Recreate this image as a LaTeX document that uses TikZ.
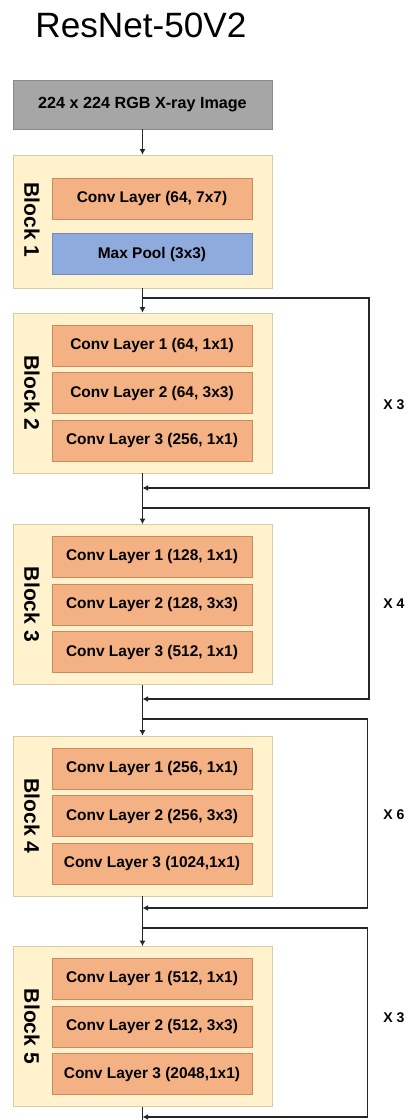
\documentclass[tikz,border=0pt]{standalone}
\usepackage{fontspec}
\setmainfont{Liberation Sans}
\usetikzlibrary{positioning,arrows.meta}
\definecolor{imgfill}{HTML}{A6A6A6}
\definecolor{imgedge}{HTML}{8A8A8A}
\definecolor{blkfill}{HTML}{FFF2CC}
\definecolor{blkedge}{HTML}{D8CBA6}
\definecolor{convfill}{HTML}{F4B183}
\definecolor{convedge}{HTML}{C98A60}
\definecolor{poolfill}{HTML}{8FAADC}
\definecolor{pooledge}{HTML}{6F8CC2}
\definecolor{linecol}{HTML}{262626}

\begin{document}
\begin{tikzpicture}[x=0.025cm,y=-0.025cm,
  block/.style={draw=blkedge,fill=blkfill,minimum width=6.475cm,minimum height=4cm,inner sep=0pt},
  layer/.style={draw=convedge,fill=convfill,minimum width=5cm,minimum height=1.025cm,inner sep=0pt,font=\bfseries\fontsize{11}{13}\selectfont},
  pool/.style={layer,draw=pooledge,fill=poolfill},
  inbox/.style={draw=imgedge,fill=imgfill,minimum width=6.475cm,minimum height=1.225cm,inner sep=0pt,font=\bfseries\fontsize{11.5}{13}\selectfont},
  blabel/.style={rotate=-90,font=\bfseries\fontsize{15}{18}\selectfont},
  rep/.style={font=\bfseries\fontsize{10}{12}\selectfont},
  line/.style={line width=1.4pt,draw=linecol},
  arr/.style={line,-{Latex[length=1.4mm,width=1.5mm]}}
]
\useasboundingbox (0,0) rectangle (408,1120);
\node[anchor=base,font=\fontsize{25}{30}\selectfont] (title) at (141,37) {ResNet-50V2};
\node[inbox] (img) at (142.5,104.5) {224 x 224 RGB X-ray Image};

\node[block,minimum height=3.325cm] (b1) at (142.5,221.5) {};
\node[layer] (c11) at (152,198.5) {Conv Layer (64, 7x7)};
\node[pool,below=0.35cm of c11] (p1) {Max Pool (3x3)};
\node[blabel] (t1) at (32,220) {Block 1};

\node[block] (b2) at (142.5,393) {};
\node[layer] (c22) at (152,393) {Conv Layer 2 (64, 3x3)};
\node[layer,above=0.15cm of c22] (c21) {Conv Layer 1 (64, 1x1)};
\node[layer,below=0.15cm of c22] (c23) {Conv Layer 3 (256, 1x1)};
\node[blabel] (t2) at (32,393) {Block 2};

\node[block] (b3) at (142.5,604.5) {};
\node[layer] (c32) at (152,604.5) {Conv Layer 2 (128, 3x3)};
\node[layer,above=0.15cm of c32] (c31) {Conv Layer 1 (128, 1x1)};
\node[layer,below=0.15cm of c32] (c33) {Conv Layer 3 (512, 1x1)};
\node[blabel] (t3) at (32,604.5) {Block 3};

\node[block] (b4) at (142.5,816) {};
\node[layer] (c42) at (152,816) {Conv Layer 2 (256, 3x3)};
\node[layer,above=0.15cm of c42] (c41) {Conv Layer 1 (256, 1x1)};
\node[layer,below=0.15cm of c42] (c43) {Conv Layer 3 (1024,1x1)};
\node[blabel] (t4) at (32,816) {Block 4};

\node[block] (b5) at (142.5,1026.5) {};
\node[layer] (c52) at (152,1026.5) {Conv Layer 2 (512, 3x3)};
\node[layer,above=0.15cm of c52] (c51) {Conv Layer 1 (512, 1x1)};
\node[layer,below=0.15cm of c52] (c53) {Conv Layer 3 (2048,1x1)};
\node[blabel] (t5) at (32,1026.5) {Block 5};

\coordinate (s2) at (142.5,298);
\coordinate (e2) at (142.5,488);
\coordinate (s3) at (142.5,508);
\coordinate (e3) at (142.5,699);
\coordinate (s4) at (142.5,719);
\coordinate (e4) at (142.5,908);
\coordinate (s5) at (142.5,928);
\coordinate (e5) at (142.5,1117);
\coordinate (out) at (142.5,1120);

\draw[arr] (img) -- (b1);
\draw[arr] (b1) -- (b2);
\draw[arr] (b2) -- (b3);
\draw[arr] (b3) -- (b4);
\draw[arr] (b4) -- (b5);
\draw[line] (b5) -- (out);

\draw[arr] (s2) -- ++(226.5,0) |- (e2);
\draw[arr] (s3) -- ++(226.5,0) |- (e3);
\draw[arr] (s4) -- ++(225,0) |- (e4);
\draw[arr] (s5) -- ++(225,0) |- (e5);

\node[rep] (x2) at (394,405) {X 3};
\node[rep] (x3) at (394,604) {X 4};
\node[rep] (x4) at (394,815) {X 6};
\node[rep] (x5) at (394,1018) {X 3};
\end{tikzpicture}
\end{document}
